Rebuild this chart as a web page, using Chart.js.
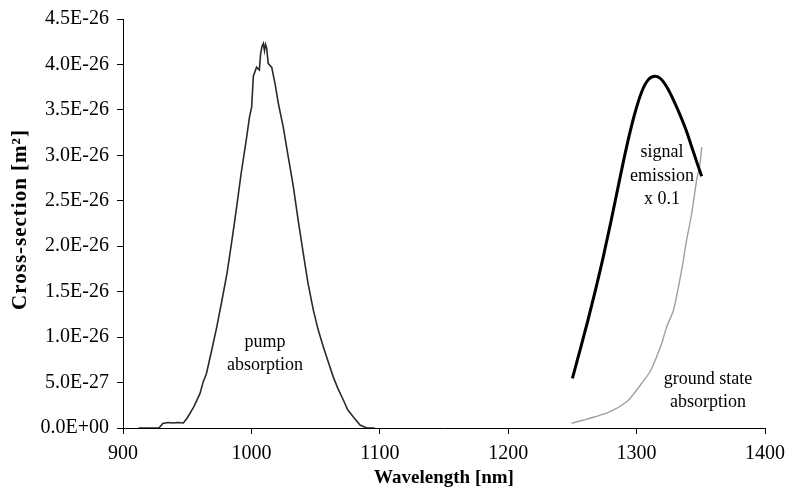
<!DOCTYPE html>
<html>
<head>
<meta charset="utf-8">
<script src="https://cdn.jsdelivr.net/npm/chart.js@4/dist/chart.umd.min.js"></script>
<style>
  html, body { margin: 0; padding: 0; background: #ffffff; }
  #wrap { width: 788px; height: 494px; position: relative; }
</style>
</head>
<body>
<div id="wrap"><canvas id="c" width="788" height="494"></canvas></div>
<script>
// ---- Data ----
const pumpX = [912, 928, 931, 935, 939, 943, 947, 950, 955, 960, 962.5, 965, 969, 973, 977, 981, 985, 988.5, 992, 996, 998.5, 1000.2, 1001.5, 1004, 1006.2, 1007.2, 1008.3, 1009.3, 1010.2, 1011, 1011.9, 1013.1, 1015.8, 1018.4, 1021, 1024.8, 1028.5, 1032.6, 1036.5, 1040.4, 1044, 1048.2, 1052, 1056, 1060, 1063.8, 1067.5, 1071.6, 1075, 1079.4, 1084.6, 1089.8, 1096];
const pumpY = [0, 0, 5e-28, 6e-28, 5.5e-28, 6e-28, 5.5e-28, 1.1e-27, 2.3e-27, 3.8e-27, 5.1e-27, 6.0e-27, 8.5e-27, 1.11e-26, 1.40e-26, 1.70e-26, 2.08e-26, 2.43e-26, 2.80e-26, 3.17e-26, 3.42e-26, 3.53e-26, 3.87e-26, 3.97e-26, 3.94e-26, 4.12e-26, 4.20e-26, 4.23e-26, 4.15e-26, 4.22e-26, 4.18e-26, 4.01e-26, 3.97e-26, 3.79e-26, 3.57e-26, 3.31e-26, 3.00e-26, 2.66e-26, 2.28e-26, 1.92e-26, 1.60e-26, 1.30e-26, 1.08e-26, 8.95e-27, 7.2e-27, 5.6e-27, 4.3e-27, 3.08e-27, 2.0e-27, 1.2e-27, 3.3e-28, 0, 0];

const signalX = [1250, 1256, 1262, 1268, 1274, 1280, 1286, 1292, 1298, 1304, 1309, 1314.3, 1319, 1324, 1329, 1334, 1339, 1343, 1347, 1350.7];
const signalY = [5.46e-27, 8.6e-27, 1.18e-26, 1.52e-26, 1.88e-26, 2.27e-26, 2.68e-26, 3.08e-26, 3.43e-26, 3.70e-26, 3.83e-26, 3.87e-26, 3.84e-26, 3.74e-26, 3.60e-26, 3.44e-26, 3.26e-26, 3.09e-26, 2.92e-26, 2.77e-26];

const groundX = [1249.4, 1258, 1266.3, 1279.3, 1292.3, 1298, 1304, 1310.4, 1315.6, 1319.5, 1323.4, 1328.6, 1330, 1335.1, 1339, 1342.9, 1346.8, 1349.4, 1350.7];
const groundY = [5.2e-28, 8.5e-28, 1.18e-27, 1.79e-27, 2.89e-27, 3.8e-27, 4.92e-27, 6.19e-27, 7.84e-27, 9.3e-27, 1.11e-26, 1.29e-26, 1.37e-26, 1.74e-26, 2.07e-26, 2.36e-26, 2.73e-26, 2.91e-26, 3.09e-26];

const xTickValues = [900, 1000, 1100, 1200, 1300, 1400];
const xTickLabels = ['900', '1000', '1100', '1200', '1300', '1400'];
const yTickValues = [0, 5e-27, 1e-26, 1.5e-26, 2e-26, 2.5e-26, 3e-26, 3.5e-26, 4e-26, 4.5e-26];
const yTickLabels = ['0.0E+00', '5.0E-27', '1.0E-26', '1.5E-26', '2.0E-26', '2.5E-26', '3.0E-26', '3.5E-26', '4.0E-26', '4.5E-26'];

const labelTexts = [['pump', 'absorption'], ['signal', 'emission', 'x 0.1'], ['ground state', 'absorption']];
const labelX = [1010.6, 1319.8, 1355.6];
const labelY = [9.46e-27, 3.03e-26, 5.39e-27];

const xTitle = 'Wavelength [nm]';
const yTitle = 'Cross-section [m\u00B2]';

// ---- Chart ----
const SERIF = '"Liberation Serif", "Times New Roman", serif';
const zip = (xs, ys) => xs.map((x, i) => ({ x: x, y: ys[i] }));

const textLabels = {
  id: 'textLabels',
  afterDatasetsDraw(chart) {
    const ctx = chart.ctx, xs = chart.scales.x, ys = chart.scales.y;
    ctx.save();
    ctx.fillStyle = '#000';
    ctx.font = '18px ' + SERIF;
    ctx.textAlign = 'center';
    ctx.textBaseline = 'middle';
    labelTexts.forEach((lines, i) => {
      const px = xs.getPixelForValue(labelX[i]);
      const py = ys.getPixelForValue(labelY[i]);
      lines.forEach((t, j) => ctx.fillText(t, px, py + j * 23.5));
    });
    ctx.restore();
    // y-axis title (rotated), slightly letter-spaced like the scanned original
    ctx.save();
    ctx.fillStyle = '#000';
    ctx.font = 'bold 21px ' + SERIF;
    if ('letterSpacing' in ctx) ctx.letterSpacing = '1px';
    ctx.textAlign = 'center';
    ctx.textBaseline = 'middle';
    ctx.translate(21, (chart.chartArea.top + chart.chartArea.bottom) / 2 - 4);
    ctx.rotate(-Math.PI / 2);
    ctx.fillText(yTitle, 0, 0);
    ctx.restore();
  }
};

new Chart(document.getElementById('c'), {
  type: 'line',
  data: {
    datasets: [
      { data: zip(pumpX, pumpY), borderColor: '#2a2a2a', borderWidth: 1.6, pointRadius: 0, tension: 0, fill: false },
      { data: zip(signalX, signalY), borderColor: '#000000', borderWidth: 3, pointRadius: 0, cubicInterpolationMode: 'monotone', fill: false },
      { data: zip(groundX, groundY), borderColor: '#a0a0a0', borderWidth: 1.4, pointRadius: 0, tension: 0.3, fill: false }
    ]
  },
  options: {
    responsive: false,
    animation: false,
    devicePixelRatio: 1,
    layout: { padding: { left: 0, right: 23, top: 19, bottom: 0 } },
    plugins: { legend: { display: false }, tooltip: { enabled: false } },
    scales: {
      x: {
        type: 'linear', min: 900, max: 1400,
        afterBuildTicks: (s) => { s.ticks = xTickValues.map(v => ({ value: v })); },
        afterFit: (s) => { s.height = 494 - 428; s.paddingLeft = 0; s.paddingRight = 0; },
        grid: { drawOnChartArea: false, drawTicks: true, tickLength: 6, color: '#000', lineWidth: 1 },
        border: { display: true, color: '#000', width: 1 },
        ticks: {
          color: '#000', font: { family: SERIF, size: 20 }, padding: 8, maxRotation: 0,
          callback: (v) => { const i = xTickValues.indexOf(v); return i >= 0 ? xTickLabels[i] : ''; }
        },
        title: { display: true, text: xTitle, color: '#000', font: { family: SERIF, size: 19, weight: 'bold' }, padding: { top: 0, bottom: 5 } }
      },
      y: {
        type: 'linear', min: 0, max: 4.5e-26,
        afterBuildTicks: (s) => { s.ticks = yTickValues.map(v => ({ value: v })); },
        afterFit: (s) => { s.width = 123; s.paddingTop = 0; s.paddingBottom = 0; },
        grid: { drawOnChartArea: false, drawTicks: true, tickLength: 6, color: '#000', lineWidth: 1 },
        border: { display: true, color: '#000', width: 1 },
        ticks: {
          color: '#000', font: { family: SERIF, size: 20 }, padding: 8,
          callback: (v) => { const i = yTickValues.findIndex(t => Math.abs(t - v) < 1e-30); return i >= 0 ? yTickLabels[i] : ''; }
        },
        title: { display: false }
      }
    }
  },
  plugins: [textLabels]
});
</script>
</body>
</html>
